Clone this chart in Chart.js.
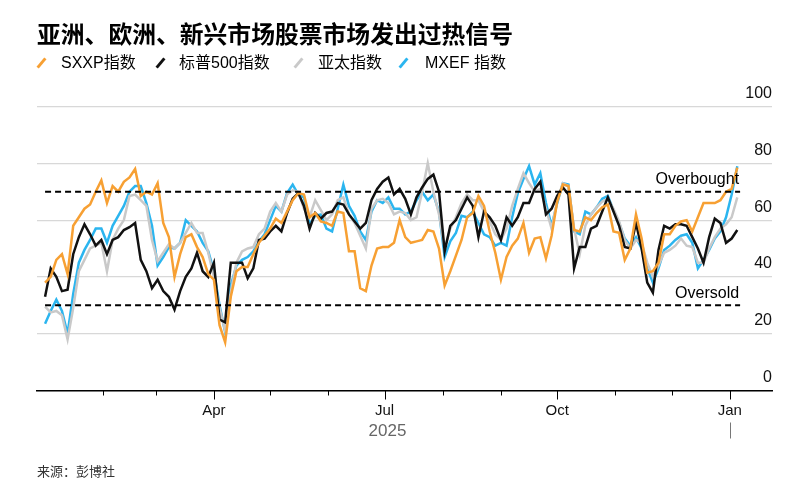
<!DOCTYPE html>
<html>
<head>
<meta charset="utf-8">
<script src="https://cdn.jsdelivr.net/npm/chart.js@4.4.1/dist/chart.umd.min.js"></script>
<style>
  body { margin: 0; background: #fff; }
  #wrap { position: relative; width: 795px; height: 484px; overflow: hidden;
          font-family: "Liberation Sans", "Noto Sans CJK SC", sans-serif; }
  #chart { position: absolute; left: 0; top: 0; }
  .title { position: absolute; left: 37px; top: 17px; font: bold 23.8px "Noto Sans CJK SC", sans-serif;
           line-height: 32px; white-space: nowrap; color: #000; }
  .item { position: absolute; top: 53px; height: 20px; font-size: 16px; line-height: 20px; white-space: nowrap; color: #000; }
  .mk { position: absolute; top: 4px; width: 3px; height: 12px; transform: rotate(40deg); }
  .source { position: absolute; left: 37px; top: 461px; font: 13px "Noto Sans CJK SC", sans-serif; color: #333; }
</style>
</head>
<body>
<div id="wrap">
  <canvas id="chart" width="795" height="484"></canvas>
  <div class="title">亚洲、欧洲、新兴市场股票市场发出过热信号</div>
  <span class="mk" style="left:40px;top:57px;background:#f7a033"></span><div class="item" style="left:61px">SXXP指数</div>
  <span class="mk" style="left:159px;top:57px;background:#111"></span><div class="item" style="left:179px">标普500指数</div>
  <span class="mk" style="left:297px;top:57px;background:#c9c9c9"></span><div class="item" style="left:318px">亚太指数</div>
  <span class="mk" style="left:402px;top:57px;background:#2bb5ef"></span><div class="item" style="left:425px">MXEF 指数</div>
  <div class="source">来源：彭博社</div>
</div>
<script>
// days since 2025-01-01
const days = [0,3,6,9,12,15,18,21,24,27,
  30,33,36,39,42,45,48,51,54,57,
  60,63,66,69,72,75,78,81,84,87,
  90,93,96,99,102,105,108,111,114,117,
  120,123,126,129,132,135,138,141,144,147,
  150,153,156,159,162,165,168,171,174,177,
  180,183,186,189,192,195,198,201,204,207,
  210,213,216,219,222,225,228,231,234,237,
  240,243,246,249,252,255,258,261,264,267,
  270,273,276,279,282,285,288,291,294,297,
  300,303,306,309,312,315,318,321,324,327,
  330,333,336,339,342,345,348,351,354,357,
  360,363,366,369];

const sxxp = [38,40,46,48,41,58,61,64,65.5,70,
  74,66,72,70,73.5,75,78,68.5,70,69,
  73,59,54,40,48,54,55,50.5,47,41,
  39,23,17,33,42,43.5,43.5,48,52,54.5,
  57,60.5,59,63,67,69.5,69,61,62.5,59.5,
  59,58,63,62.5,49,49,36,35,44,50,
  50.5,50.5,52,60,54,52,52.5,53,56.5,56,
  50,37,42,47.5,53,61,62.5,68.5,65,56,
  48.5,39,47,51,53.5,59,48.5,53.5,54,46.5,
  54.5,66.5,72.5,72,56.5,56,61,60,62.5,64.5,
  65.5,56,55.5,46,50,62,53.5,41.5,42,45,
  55,55,58,59.5,60,56,61,66,66,66,
  67,70,71,78.5];

const spx = [33,43,40,35,35.5,48,54,58.5,55,51,
  53,48,53,54,56.5,57.5,59,46,42,36,
  39,35,33,28.5,35,40,43,48.5,42,40,
  45,25,24,45,45,45,39.5,43,53,53.5,
  56,58,56,62.5,67.5,69.5,65,57,62.5,60.5,
  62.5,63,66,65.5,62,59.5,57,59,67,71,
  73.5,75,69,71,67.5,62,68,71.5,74.5,76,
  70,49,58,60,64,68,65,54,63,61,
  58,53,61,58,61,66,66,71,73.5,62,
  64,68.5,71.5,69,43,50.5,50.5,57,58,63,
  68,63,58,50.5,50,59,50,38,34.5,49.5,
  58,57,58.5,58.5,58,54,50,45,54,60.5,
  59,52,53.5,56.5];

const asiaPac = [29.5,27.5,28,26.5,18,29,42,46,50,51,
  52,42,53,57,60,68.5,69,67,65,53,
  45.5,48.5,51.5,50,52,55.5,59,55.5,55.5,48.5,
  40,29,21,34.5,45,49,50,50.5,55,57,
  63,66,63,69,70.5,70,64,61,67,63.5,
  60,62,67,68,62,59,54.5,50,64,67,
  67.5,66,62,63,62.5,60,61,70,80,70,
  62,50,57,61,66,69,67,67,63,59.5,
  55,53,57,65,71,76.5,73,70,71,64,
  57,67,73,72,57,48,58,62,64.5,66.5,
  67.5,64,59.5,53,50,53,52,45,40,44,
  48.5,49.5,51,53.5,51,50.5,45,45,50,54,
  57,58.5,61,68];

const mxef = [23.5,28,32,28,20,34,45,49.5,53,57,
  57,52,58,61.5,65,70,72,72,66,58,
  44,47,50.5,50,52,60,58,56,52,49,
  42,30,20.5,37,44,46,47,49,52.5,55,
  60,65,63,69.5,72.5,69,68,58.5,61.5,62,
  57,56,64,72.5,65,61.5,56,53,63,67,
  66,68,64,64,62,63,67,70,67,69,
  63,47,52.5,55.5,61.5,61,63,59,55,54,
  51,52,51,61,69.5,74.5,79,72.5,76.5,66,
  58,66,73,72.5,56,55,63,62,64.5,67.5,
  68.5,63.5,59,53.5,51,54,50,43,38,43,
  49.5,51,53,54.5,55,52,43,46,49.5,53.5,
  56,61,69,79];

// month starts (days since 2025-01-01) and their labels
const monthTickDays = [31,59,90,120,151,181,212,243,273,304,334,365];
const monthTickLabels = ["","","Apr","","","Jul","","","Oct","","","Jan"];
const overbought = 70;
const oversold = 30;
const bandEnd = 370.5;

function pts(vals) {
  return days.map((d, i) => ({ x: d, y: vals[i] }));
}

function series(vals, color) {
  return { data: pts(vals), borderColor: color, borderWidth: 2.5, pointRadius: 0, tension: 0, fill: false };
}

function level(v) {
  return { data: [{ x: days[0], y: v }, { x: bandEnd, y: v }], borderColor: "#000", borderWidth: 2,
           borderDash: [6, 4], pointRadius: 0, fill: false };
}

const axisExtras = {
  id: "axisExtras",
  afterDraw(chart) {
    const { ctx, chartArea, scales: { x, y } } = chart;
    const b = chartArea.bottom;
    ctx.save();
    ctx.strokeStyle = "#000";
    ctx.lineWidth = 1;
    monthTickDays.forEach((d, i) => {
      const px = Math.round(x.getPixelForValue(d)) + 0.5;
      const len = monthTickLabels[i] ? 9 : 5;
      ctx.beginPath();
      ctx.moveTo(px, b);
      ctx.lineTo(px, b + len);
      ctx.stroke();
    });
    ctx.textAlign = "center";
    ctx.textBaseline = "middle";
    ctx.fillStyle = "#111";
    ctx.font = '15px "Liberation Sans"';
    monthTickDays.forEach((d, i) => {
      if (monthTickLabels[i]) ctx.fillText(monthTickLabels[i], x.getPixelForValue(d), b + 20);
    });
    ctx.fillStyle = "#666";
    ctx.font = '17px "Liberation Sans"';
    ctx.fillText("2025", x.getPixelForValue(182.5), b + 41);
    const sep = Math.round(x.getPixelForValue(365)) + 0.5;
    ctx.strokeStyle = "#777";
    ctx.beginPath();
    ctx.moveTo(sep, b + 32);
    ctx.lineTo(sep, b + 48);
    ctx.stroke();

    ctx.fillStyle = "#000";
    ctx.font = '16px "Liberation Sans"';
    ctx.textAlign = "right";
    const rx = x.getPixelForValue(bandEnd) - 1;
    ctx.fillText("Overbought", rx, y.getPixelForValue(overbought) - 12);
    ctx.fillText("Oversold", rx, y.getPixelForValue(oversold) - 12);
    ctx.restore();
  }
};

new Chart(document.getElementById("chart"), {
  type: "line",
  data: {
    datasets: [
      level(overbought),
      level(oversold),
      series(sxxp, "#f7a033"),
      series(spx, "#111111"),
      series(asiaPac, "#c9c9c9"),
      series(mxef, "#2bb5ef")
    ]
  },
  options: {
    responsive: false,
    animation: false,
    layout: { padding: { left: 37, right: 23, top: 106.5, bottom: 93.5 } },
    plugins: { legend: { display: false }, tooltip: { enabled: false } },
    scales: {
      x: {
        type: "linear",
        min: -4.3,
        max: 387.5,
        grid: { display: false, drawTicks: false },
        border: { display: true, color: "#000", width: 1.5 },
        ticks: { display: false }
      },
      y: {
        position: "right",
        min: 0,
        max: 100,
        grid: { color: "#d8d8d8", lineWidth: 1.2, drawTicks: false },
        border: { display: false },
        ticks: {
          stepSize: 20,
          mirror: true,
          padding: 0,
          labelOffset: -13,
          color: "#111",
          font: { family: "Liberation Sans", size: 16 }
        }
      }
    }
  },
  plugins: [axisExtras]
});
</script>
</body>
</html>
